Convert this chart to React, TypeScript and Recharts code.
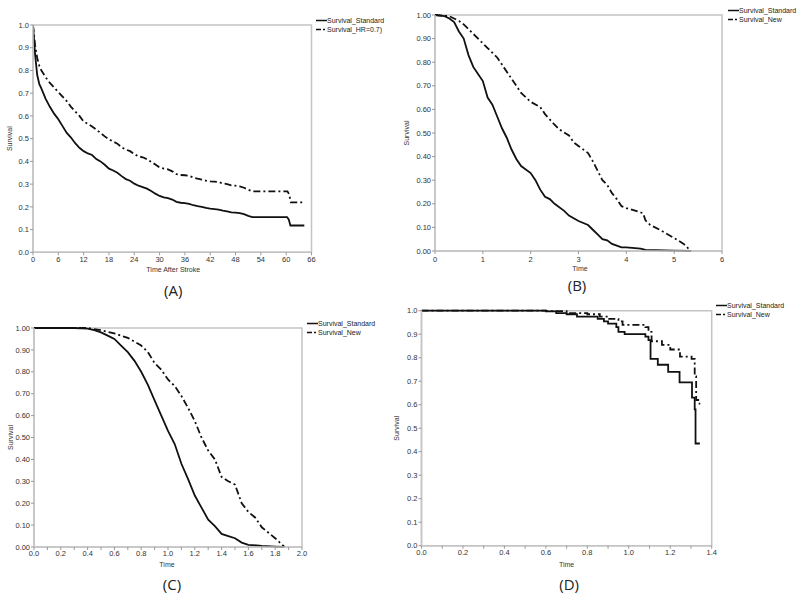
import React from 'react';
import { LineChart, Line, XAxis, YAxis, ReferenceArea, Legend } from 'recharts';

// ---------- Panel A ----------
const aStdTime = [0, 0.5, 1, 1.5, 2, 3, 4, 5, 6, 7, 8, 9, 10, 11, 12, 13, 14, 15, 16, 17, 18, 19, 20, 21, 22, 23, 24, 25, 26, 27, 28, 29, 30, 31, 32, 33, 34, 35, 36, 37, 38, 39, 40, 41, 42, 43, 44, 45, 46, 47, 48, 49, 50, 51, 52, 60.2, 60.6, 61, 64.3];
const aStdSurv = [1.0, 0.87, 0.78, 0.74, 0.72, 0.675, 0.64, 0.61, 0.585, 0.555, 0.525, 0.505, 0.48, 0.46, 0.445, 0.435, 0.428, 0.41, 0.4, 0.385, 0.368, 0.36, 0.35, 0.335, 0.322, 0.315, 0.302, 0.293, 0.287, 0.28, 0.27, 0.258, 0.248, 0.242, 0.238, 0.232, 0.222, 0.218, 0.216, 0.213, 0.207, 0.203, 0.2, 0.195, 0.192, 0.19, 0.188, 0.183, 0.18, 0.176, 0.175, 0.172, 0.168, 0.16, 0.155, 0.155, 0.145, 0.118, 0.118];
const aNewTime = [0, 0.5, 1, 1.5, 2, 3, 4, 5, 6, 7, 8, 9, 10, 11, 12, 13, 14, 15, 16, 17, 18, 19, 20, 21, 22, 23, 24, 25, 26, 27, 28, 29, 30, 31, 32, 33, 34, 35, 36, 37, 38, 39, 40, 41, 42, 43, 44, 45, 46, 47, 48, 49, 50, 51, 52, 60.3, 60.7, 61.1, 63.8];
const aNewSurv = [1.0, 0.91, 0.855, 0.82, 0.8, 0.77, 0.745, 0.725, 0.705, 0.685, 0.665, 0.64, 0.62, 0.6, 0.575, 0.565, 0.553, 0.54, 0.525, 0.51, 0.497, 0.487, 0.478, 0.462, 0.452, 0.445, 0.432, 0.422, 0.418, 0.41, 0.398, 0.386, 0.373, 0.368, 0.365, 0.356, 0.344, 0.34, 0.339, 0.336, 0.329, 0.324, 0.32, 0.315, 0.312, 0.311, 0.309, 0.303, 0.3, 0.295, 0.293, 0.29, 0.284, 0.275, 0.268, 0.268, 0.255, 0.22, 0.22];
const aXTicks = [0, 6, 12, 18, 24, 30, 36, 42, 48, 54, 60, 66];
const aSeriesNames = ['Survival_Standard', 'Survival_HR=0.7)'];

// ---------- Panel B ----------
const bStdTime = [0, 0.2, 0.3, 0.4, 0.5, 0.6, 0.7, 0.8, 0.9, 1.0, 1.1, 1.2, 1.3, 1.4, 1.5, 1.6, 1.7, 1.8, 2.0, 2.1, 2.2, 2.3, 2.4, 2.5, 2.7, 2.8, 3.0, 3.2, 3.3, 3.4, 3.5, 3.6, 3.7, 3.9, 4.0, 4.3, 4.4, 5.0, 5.35];
const bStdSurv = [1.0, 0.995, 0.985, 0.97, 0.93, 0.9, 0.83, 0.78, 0.75, 0.72, 0.65, 0.62, 0.57, 0.52, 0.48, 0.43, 0.39, 0.36, 0.33, 0.3, 0.26, 0.23, 0.22, 0.2, 0.17, 0.15, 0.127, 0.11, 0.09, 0.07, 0.05, 0.045, 0.03, 0.015, 0.015, 0.01, 0.005, 0.002, 0.0];
const bNewTime = [0, 0.3, 0.5, 0.6, 0.8, 1.0, 1.1, 1.2, 1.3, 1.4, 1.5, 1.6, 1.7, 1.8, 2.0, 2.2, 2.3, 2.5, 2.6, 2.8, 2.9, 3.0, 3.2, 3.3, 3.4, 3.5, 3.6, 3.7, 3.8, 3.9, 4.0, 4.2, 4.35, 4.4, 4.5, 4.7, 5.0, 5.2, 5.35];
const bNewSurv = [1.0, 0.995, 0.975, 0.96, 0.92, 0.88, 0.86, 0.84, 0.82, 0.79, 0.76, 0.73, 0.7, 0.67, 0.632, 0.61, 0.58, 0.535, 0.515, 0.49, 0.46, 0.445, 0.415, 0.38, 0.34, 0.3, 0.28, 0.245, 0.22, 0.19, 0.182, 0.17, 0.16, 0.13, 0.11, 0.09, 0.055, 0.03, 0.0];
const bXTicks = [0, 1, 2, 3, 4, 5, 6];
const bSeriesNames = ['Survival_Standard', 'Survival_New'];

// ---------- Panel C ----------
const cStdTime = [0, 0.3, 0.4, 0.45, 0.5, 0.55, 0.6, 0.65, 0.7, 0.75, 0.8, 0.85, 0.9, 0.95, 1.0, 1.05, 1.1, 1.15, 1.2, 1.25, 1.3, 1.35, 1.4, 1.45, 1.5, 1.55, 1.6, 1.7, 1.8, 1.86];
const cStdSurv = [1.0, 1.0, 0.997, 0.99, 0.98, 0.965, 0.95, 0.92, 0.89, 0.85, 0.8, 0.74, 0.67, 0.6, 0.53, 0.47, 0.38, 0.31, 0.235, 0.18, 0.125, 0.095, 0.06, 0.05, 0.04, 0.02, 0.01, 0.005, 0.002, 0.0];
const cNewTime = [0, 0.4, 0.5, 0.6, 0.7, 0.8, 0.85, 0.9, 0.95, 1.0, 1.05, 1.1, 1.15, 1.2, 1.25, 1.3, 1.35, 1.4, 1.45, 1.5, 1.55, 1.6, 1.65, 1.7, 1.75, 1.8, 1.87];
const cNewSurv = [1.0, 1.0, 0.99, 0.975, 0.955, 0.92, 0.89, 0.84, 0.81, 0.765, 0.735, 0.69, 0.635, 0.575, 0.5, 0.44, 0.4, 0.32, 0.3, 0.285, 0.2, 0.16, 0.135, 0.09, 0.065, 0.04, 0.0];
const cXTicks = [0, 0.1, 0.2, 0.3, 0.4, 0.5, 0.6, 0.7, 0.8, 0.9, 1.0, 1.1, 1.2, 1.3, 1.4, 1.5, 1.6, 1.7, 1.8, 1.9, 2.0];
const cSeriesNames = ['Survival_Standard', 'Survival_New'];

// ---------- Panel D ----------
const dStdTime = [0, 0.59, 0.6, 0.65, 0.7, 0.75, 0.85, 0.88, 0.9, 0.94, 0.95, 0.98, 1.08, 1.095, 1.105, 1.14, 1.19, 1.245, 1.305, 1.318, 1.322, 1.343];
const dStdSurv = [1.0, 1.0, 0.997, 0.99, 0.985, 0.975, 0.965, 0.955, 0.945, 0.93, 0.91, 0.9, 0.89, 0.875, 0.795, 0.77, 0.74, 0.695, 0.63, 0.58, 0.435, 0.435];
const dNewTime = [0, 0.59, 0.6, 0.7, 0.8, 0.86, 0.9, 0.95, 0.97, 1.08, 1.095, 1.11, 1.16, 1.2, 1.247, 1.303, 1.318, 1.325, 1.335, 1.345];
const dNewSurv = [1.0, 1.0, 0.998, 0.99, 0.985, 0.975, 0.965, 0.955, 0.94, 0.93, 0.91, 0.87, 0.855, 0.835, 0.805, 0.795, 0.72, 0.62, 0.605, 0.605];
const dXTicks = [0, 0.1, 0.2, 0.3, 0.4, 0.5, 0.6, 0.7, 0.8, 0.9, 1.0, 1.1, 1.2, 1.3, 1.4];
const dSeriesNames = ['Survival_Standard', 'Survival_New'];

const yTicks = [0, 0.1, 0.2, 0.3, 0.4, 0.5, 0.6, 0.7, 0.8, 0.9, 1.0];

const zip = (t: number[], s: number[]) => t.map((x, i) => ({ x, y: s[i] }));

const FONT = '"Liberation Sans", Arial, sans-serif';
const AXIS_GRAY = '#c4c4c4';
const TEXT = '#333';
const DASH = '7 3 2 3';

const makeLegend = (names: string[]) => () => (
  <div style={{ fontFamily: FONT, fontSize: 7, color: '#222', lineHeight: '9.5px' }}>
    {names.map((n, i) => (
      <div key={n} style={{ display: 'flex', alignItems: 'center', whiteSpace: 'nowrap' }}>
        <svg width={11} height={9} style={{ display: 'block' }}>
          <line x1={0} x2={11} y1={4.5} y2={4.5} stroke="#111" strokeWidth={1.5} strokeDasharray={i ? '5 2 2 10' : undefined} />
        </svg>
        <span>{n}</span>
      </div>
    ))}
  </div>
);

const yLabel = (x: number) => (props: any) => {
  const vb = props.viewBox || {};
  const cy = vb.y + vb.height / 2;
  return (
    <text x={x} y={cy} transform={`rotate(-90, ${x}, ${cy})`} textAnchor="middle" dominantBaseline="central" fontSize={7} fontFamily={FONT} fill={TEXT}>
      Survival
    </text>
  );
};

const xLabel = (title: string, letter: string, titleDy: number, letterDy: number, titleDx: number, letterDx: number) => (props: any) => {
  const vb = props.viewBox || {};
  const cx = vb.x + vb.width / 2;
  return (
    <g>
      <text x={cx + titleDx} y={vb.y + titleDy} textAnchor="middle" dominantBaseline="central" fontSize={7} fontFamily={FONT} fill={TEXT}>
        {title}
      </text>
      <text x={cx + letterDx} y={vb.y + letterDy} textAnchor="middle" dominantBaseline="central" fontSize={15} fontFamily='"Open Sans", sans-serif' fill="#222">
        {letter}
      </text>
    </g>
  );
};

type PanelProps = {
  left: number;
  top: number;
  width: number;
  height: number;
  margin: { top: number; right: number; bottom: number; left: number };
  yWidth: number;
  xMax: number;
  xTicks: number[];
  xFmt: (v: number) => string;
  yFmt: (v: number) => string;
  std: { x: number; y: number }[];
  neu: { x: number; y: number }[];
  names: string[];
  legendPos: { left: number; top: number };
  ySurvX: number;
  xTitle: string;
  letter: string;
  titleDy: number;
  letterDy: number;
  titleDx: number;
  letterDx: number;
  tickMarginX: number;
  step?: boolean;
};

const Panel = (p: PanelProps) => (
  <div style={{ position: 'absolute', left: p.left, top: p.top }}>
    <LineChart width={p.width} height={p.height} margin={p.margin}>
      <ReferenceArea x1={0} x2={p.xMax} y1={0} y2={1} fill="none" stroke={AXIS_GRAY} strokeWidth={1.5} />
      <XAxis
        dataKey="x"
        type="number"
        domain={[0, p.xMax]}
        ticks={p.xTicks}
        tickFormatter={p.xFmt}
        interval={0}
        height={16}
        tickSize={3}
        tickMargin={p.tickMarginX}
        stroke={AXIS_GRAY}
        axisLine={{ stroke: AXIS_GRAY, strokeWidth: 1.5 }}
        tickLine={{ stroke: '#999' }}
        tick={{ fontSize: 7.5, fill: TEXT, fontFamily: FONT }}
        allowDataOverflow
        label={xLabel(p.xTitle, p.letter, p.titleDy, p.letterDy, p.titleDx, p.letterDx)}
      />
      <YAxis
        type="number"
        domain={[0, 1]}
        ticks={yTicks}
        tickFormatter={p.yFmt}
        interval={0}
        width={p.yWidth}
        tickSize={3}
        tickMargin={1}
        axisLine={{ stroke: AXIS_GRAY, strokeWidth: 1.5 }}
        tickLine={{ stroke: '#999' }}
        tick={{ fontSize: 7.5, fill: TEXT, fontFamily: FONT }}
        label={yLabel(p.ySurvX)}
      />
      <Legend
        layout="vertical"
        align="center"
        verticalAlign="middle"
        content={makeLegend(p.names)}
        wrapperStyle={{ left: p.legendPos.left, top: p.legendPos.top, width: 90, height: 20 }}
      />
      <Line data={p.std} dataKey="y" type={p.step ? 'stepAfter' : 'linear'} stroke="#111" strokeWidth={1.8} dot={false} isAnimationActive={false} name={p.names[0]} />
      <Line data={p.neu} dataKey="y" type={p.step ? 'stepAfter' : 'linear'} stroke="#111" strokeWidth={1.8} strokeDasharray={DASH} dot={false} isAnimationActive={false} name={p.names[1]} />
    </LineChart>
  </div>
);

const f1 = (v: number) => v.toFixed(1);
const f2 = (v: number) => v.toFixed(2);
const fInt = (v: number) => String(v);
const fEven = (v: number) => (Math.round(v * 10) % 2 === 0 ? v.toFixed(1) : '');

export default function App() {
  return (
    <div style={{ position: 'absolute', left: 0, top: 0, width: 800, height: 597, background: '#fff', overflow: 'hidden' }}>
      <Panel
        left={0} top={0} width={400} height={300}
        margin={{ top: 25, right: 88.5, bottom: 31.7, left: 3 }}
        yWidth={30} xMax={66} xTicks={aXTicks} xFmt={fInt} yFmt={f1}
        std={zip(aStdTime, aStdSurv)} neu={zip(aNewTime, aNewSurv)}
        names={aSeriesNames} legendPos={{ left: 316, top: 15.5 }} ySurvX={10}
        xTitle="Time After Stroke" letter="(A)" titleDy={16.7} letterDy={37.7} titleDx={1} letterDx={1}
        tickMarginX={1}
      />
      <Panel
        left={400} top={0} width={400} height={300}
        margin={{ top: 15, right: 78, bottom: 33, left: 3 }}
        yWidth={32} xMax={6} xTicks={bXTicks} xFmt={fInt} yFmt={f2}
        std={zip(bStdTime, bStdSurv)} neu={zip(bNewTime, bNewSurv)}
        names={bSeriesNames} legendPos={{ left: 328, top: 5.5 }} ySurvX={6}
        xTitle="Time" letter="(B)" titleDy={17} letterDy={34} titleDx={1.5} letterDx={-1.5}
        tickMarginX={3}
      />
      <Panel
        left={0} top={300} width={390} height={297}
        margin={{ top: 28, right: 88, bottom: 34, left: 3 }}
        yWidth={31} xMax={2} xTicks={cXTicks} xFmt={fEven} yFmt={f2}
        std={zip(cStdTime, cStdSurv)} neu={zip(cNewTime, cNewSurv)}
        names={cSeriesNames} legendPos={{ left: 307, top: 18.5 }} ySurvX={10}
        xTitle="Time" letter="(C)" titleDy={17} letterDy={37} titleDx={-1} letterDx={4}
        tickMarginX={1}
      />
      <Panel
        left={390} top={300} width={410} height={297}
        margin={{ top: 10.7, right: 88.3, bottom: 35.3, left: 12.5 }}
        yWidth={19} xMax={1.4} xTicks={dXTicks} xFmt={fEven} yFmt={f1}
        std={zip(dStdTime, dStdSurv)} neu={zip(dNewTime, dNewSurv)}
        names={dSeriesNames} legendPos={{ left: 326, top: 0.5 }} ySurvX={7}
        xTitle="Time" letter="(D)" titleDy={18.3} letterDy={38.3} titleDx={0} letterDx={2.5}
        tickMarginX={1}
        step
      />
    </div>
  );
}
